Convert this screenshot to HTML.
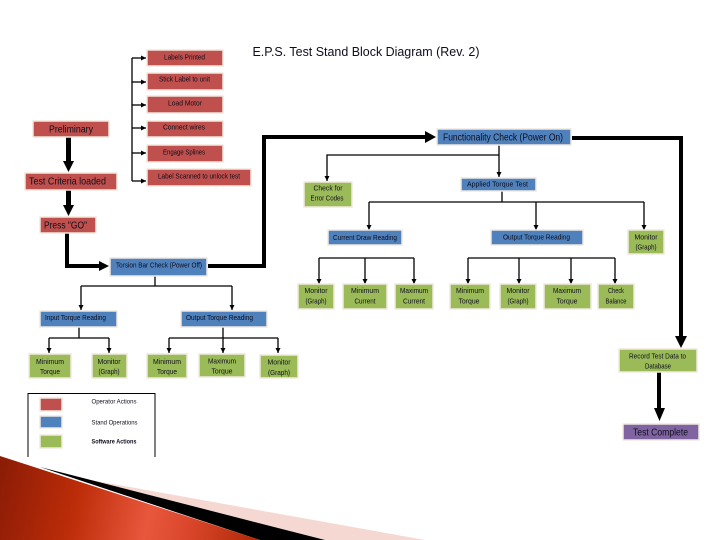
<!DOCTYPE html>
<html><head><meta charset="utf-8"><style>
html,body{margin:0;padding:0;background:#fff;width:720px;height:540px;overflow:hidden}
svg{display:block}
text{font-family:"Liberation Sans",sans-serif;text-anchor:middle;fill:#10101c;filter:url(#b)}
.s{font-size:7.2px}.l{font-size:10px}
.r{fill:#c0504d}.u{fill:#4f81bd}.g{fill:#9bbb59}.p{fill:#8064a2}
rect.r,rect.u,rect.g,rect.p{stroke:#f1e9df;stroke-width:1.5}
.t{fill:none;stroke:#000;stroke-width:1.3}
.k{fill:none;stroke:#000;stroke-width:4}
</style></head><body>
<svg width="720" height="540" viewBox="0 0 720 540" xmlns="http://www.w3.org/2000/svg">
<defs>
<filter id="b" x="-10%" y="-30%" width="120%" height="160%"><feGaussianBlur stdDeviation="0.3"/></filter>
<linearGradient id="rg" gradientUnits="userSpaceOnUse" x1="0" y1="470" x2="260" y2="530">
<stop offset="0" stop-color="#8c1c06"/><stop offset="0.3" stop-color="#bc2c08"/><stop offset="0.58" stop-color="#e8573c"/><stop offset="0.75" stop-color="#d8452a"/><stop offset="1" stop-color="#b02806"/>
</linearGradient>
<marker id="a" markerUnits="userSpaceOnUse" markerWidth="6" markerHeight="6" refX="5" refY="3" orient="auto"><path d="M0 .5L5 3L0 5.5z"/></marker>
</defs>

<polygon points="85,479 425,540 250,540" fill="#f5d8d2"/>
<polygon points="40,467 325,540 260,540" fill="#000"/>
<polygon points="0,456 260,540 0,540" fill="url(#rg)"/>

<text x="366" y="56" style="font-size:13px" textLength="227" lengthAdjust="spacingAndGlyphs">E.P.S. Test Stand Block Diagram (Rev. 2)</text>

<!-- thin connectors -->
<g class="t">
<path d="M132 58V181"/>
<path d="M132 58H146" marker-end="url(#a)"/><path d="M132 82H146" marker-end="url(#a)"/><path d="M132 105H146" marker-end="url(#a)"/><path d="M132 128H146" marker-end="url(#a)"/><path d="M132 153H146" marker-end="url(#a)"/><path d="M132 181H146" marker-end="url(#a)"/>
<path d="M499 145V177" marker-end="url(#a)"/>
<path d="M499 155H327V181" marker-end="url(#a)"/>
<path d="M502 191V202M369 202H644"/>
<path d="M369 202V230" marker-end="url(#a)"/><path d="M536 202V230" marker-end="url(#a)"/><path d="M644 202V230" marker-end="url(#a)"/>
<path d="M319 258H414M468 258H615"/>
<path d="M319 258V284" marker-end="url(#a)"/><path d="M365 258V284" marker-end="url(#a)"/><path d="M414 258V284" marker-end="url(#a)"/><path d="M468 258V284" marker-end="url(#a)"/><path d="M519 258V284" marker-end="url(#a)"/><path d="M571 258V284" marker-end="url(#a)"/><path d="M615 258V284" marker-end="url(#a)"/>
<path d="M155 276V286M81 286H232"/>
<path d="M81 286V310" marker-end="url(#a)"/><path d="M232 286V310" marker-end="url(#a)"/>
<path d="M79 327V338M49 338H109M223 327V338M169 338H278"/>
<path d="M49 338V353" marker-end="url(#a)"/><path d="M109 338V353" marker-end="url(#a)"/><path d="M169 338V353" marker-end="url(#a)"/><path d="M223 338V353" marker-end="url(#a)"/><path d="M278 338V353" marker-end="url(#a)"/>
</g>

<!-- thick connectors -->
<path class="k" style="stroke-width:5" d="M68.500 137V163"/><polygon points="63,161 74,161 68.500,172"/>
<path class="k" style="stroke-width:5" d="M68.500 190V207"/><polygon points="63,205 74,205 68.500,216"/>
<path class="k" d="M67 233V266H100"/><polygon points="99,261 99,271 109,266"/>
<path class="k" d="M208 266H264V137H427"/><polygon points="425,131 425,143 436,137"/>
<path class="k" d="M572 138H681V338"/><polygon points="675,336 687,336 681,348"/>
<path class="k" d="M659 372V410"/><polygon points="654,408 665,408 659.500,421"/>

<!-- red -->
<rect class="r" x="147" y="50" width="76" height="16"/><text class="s" x="184.500" y="59.500" textLength="41" lengthAdjust="spacingAndGlyphs">Labels Printed</text>
<rect class="r" x="147" y="73" width="76" height="17"/><text class="s" x="184.500" y="81.500" textLength="51" lengthAdjust="spacingAndGlyphs">Stick Label to unit</text>
<rect class="r" x="147" y="96" width="76" height="17"/><text class="s" x="185" y="105.500" textLength="34" lengthAdjust="spacingAndGlyphs">Load Motor</text>
<rect class="r" x="147" y="121" width="76" height="16"/><text class="s" x="184" y="129.500" textLength="42" lengthAdjust="spacingAndGlyphs">Connect wires</text>
<rect class="r" x="147" y="145" width="76" height="17"/><text class="s" x="184" y="154.500" textLength="42" lengthAdjust="spacingAndGlyphs">Engage Splines</text>
<rect class="r" x="147" y="169" width="104" height="17"/><text class="s" x="199" y="178.500" textLength="82" lengthAdjust="spacingAndGlyphs">Label Scanned to unlock test</text>
<rect class="r" x="33" y="121" width="76" height="16"/><text class="l" x="71" y="132.500" textLength="44" lengthAdjust="spacingAndGlyphs">Preliminary</text>
<rect class="r" x="25" y="173" width="92" height="17"/><text class="l" x="67.500" y="184.500" textLength="77" lengthAdjust="spacingAndGlyphs">Test Criteria loaded</text>
<rect class="r" x="40" y="217" width="56" height="16"/><text class="l" x="65.500" y="228.500" textLength="43" lengthAdjust="spacingAndGlyphs">Press "GO"</text>

<!-- blue -->
<rect class="u" x="110" y="258" width="97" height="18"/><text class="s" x="159" y="267.500" textLength="86" lengthAdjust="spacingAndGlyphs">Torsion Bar Check (Power Off)</text>
<rect class="u" x="437" y="129" width="134" height="16"/><text class="l" x="503" y="140.500" textLength="120" lengthAdjust="spacingAndGlyphs">Functionality Check (Power On)</text>
<rect class="u" x="461" y="178" width="75" height="13"/><text class="s" x="497.500" y="186.500" textLength="61" lengthAdjust="spacingAndGlyphs">Applied Torque Test</text>
<rect class="u" x="328" y="230" width="74" height="15"/><text class="s" x="365" y="240" textLength="64" lengthAdjust="spacingAndGlyphs">Current Draw Reading</text>
<rect class="u" x="491" y="230" width="92" height="15"/><text class="s" x="536.500" y="239.500" textLength="67" lengthAdjust="spacingAndGlyphs">Output Torque Reading</text>
<rect class="u" x="40" y="311" width="77" height="16"/><text class="s" x="75.500" y="320" textLength="61" lengthAdjust="spacingAndGlyphs">Input Torque Reading</text>
<rect class="u" x="181" y="311" width="86" height="16"/><text class="s" x="219.500" y="320" textLength="67" lengthAdjust="spacingAndGlyphs">Output Torque Reading</text>

<!-- green -->
<rect class="g" x="304" y="182" width="48" height="25"/><text class="s" x="328" y="190.500" textLength="29" lengthAdjust="spacingAndGlyphs">Check for</text><text class="s" x="327" y="200.500" textLength="33" lengthAdjust="spacingAndGlyphs">Error Codes</text>
<rect class="g" x="628" y="230" width="36" height="24"/><text class="s" x="646" y="239.500" textLength="23" lengthAdjust="spacingAndGlyphs">Monitor</text><text class="s" x="646" y="249.500" textLength="21" lengthAdjust="spacingAndGlyphs">(Graph)</text>
<rect class="g" x="298" y="284" width="36" height="25"/><text class="s" x="316" y="293" textLength="23" lengthAdjust="spacingAndGlyphs">Monitor</text><text class="s" x="316" y="303.500" textLength="21" lengthAdjust="spacingAndGlyphs">(Graph)</text>
<rect class="g" x="343" y="284" width="44" height="25"/><text class="s" x="365" y="293" textLength="28" lengthAdjust="spacingAndGlyphs">Minimum</text><text class="s" x="365" y="303.500" textLength="21" lengthAdjust="spacingAndGlyphs">Current</text>
<rect class="g" x="395" y="284" width="38" height="25"/><text class="s" x="414" y="293" textLength="28" lengthAdjust="spacingAndGlyphs">Maximum</text><text class="s" x="414" y="303.500" textLength="22" lengthAdjust="spacingAndGlyphs">Current</text>
<rect class="g" x="450" y="284" width="40" height="25"/><text class="s" x="470" y="293" textLength="28" lengthAdjust="spacingAndGlyphs">Minimum</text><text class="s" x="469" y="303.500" textLength="21" lengthAdjust="spacingAndGlyphs">Torque</text>
<rect class="g" x="500" y="284" width="36" height="25"/><text class="s" x="518" y="293" textLength="23" lengthAdjust="spacingAndGlyphs">Monitor</text><text class="s" x="518" y="303.500" textLength="21" lengthAdjust="spacingAndGlyphs">(Graph)</text>
<rect class="g" x="544" y="284" width="47" height="25"/><text class="s" x="567" y="293" textLength="28" lengthAdjust="spacingAndGlyphs">Maximum</text><text class="s" x="567" y="303.500" textLength="21" lengthAdjust="spacingAndGlyphs">Torque</text>
<rect class="g" x="598" y="284" width="36" height="25"/><text class="s" x="616" y="293" textLength="16" lengthAdjust="spacingAndGlyphs">Check</text><text class="s" x="616" y="303.500" textLength="21" lengthAdjust="spacingAndGlyphs">Balance</text>
<rect class="g" x="29" y="354" width="42" height="24"/><text class="s" x="50" y="364" textLength="28" lengthAdjust="spacingAndGlyphs">Minimum</text><text class="s" x="50" y="374" textLength="20" lengthAdjust="spacingAndGlyphs">Torque</text>
<rect class="g" x="92" y="354" width="35" height="24"/><text class="s" x="109" y="364" textLength="23" lengthAdjust="spacingAndGlyphs">Monitor</text><text class="s" x="109" y="374" textLength="21" lengthAdjust="spacingAndGlyphs">(Graph)</text>
<rect class="g" x="147" y="354" width="40" height="24"/><text class="s" x="167" y="364" textLength="28" lengthAdjust="spacingAndGlyphs">Minimum</text><text class="s" x="167" y="374" textLength="20" lengthAdjust="spacingAndGlyphs">Torque</text>
<rect class="g" x="199" y="354" width="46" height="23"/><text class="s" x="222" y="363.500" textLength="28" lengthAdjust="spacingAndGlyphs">Maximum</text><text class="s" x="222" y="373.500" textLength="21" lengthAdjust="spacingAndGlyphs">Torque</text>
<rect class="g" x="260" y="355" width="38" height="23"/><text class="s" x="279" y="364.500" textLength="23" lengthAdjust="spacingAndGlyphs">Monitor</text><text class="s" x="279" y="375" textLength="22" lengthAdjust="spacingAndGlyphs">(Graph)</text>
<rect class="g" x="619" y="349" width="78" height="23"/><text class="s" x="657.500" y="358.500" textLength="57" lengthAdjust="spacingAndGlyphs">Record Test Data to</text><text class="s" x="658" y="368.500" textLength="26" lengthAdjust="spacingAndGlyphs">Database</text>

<!-- purple -->
<rect class="p" x="623" y="424" width="76" height="16"/><text class="l" x="660.500" y="435.500" textLength="55" lengthAdjust="spacingAndGlyphs">Test Complete</text>

<!-- legend -->
<path d="M28 457V393.500H155V457" fill="none" stroke="#000" stroke-width="1"/>
<rect class="r" x="40" y="398" width="22" height="13"/>
<rect class="u" x="40" y="416" width="22" height="12"/>
<rect class="g" x="40" y="435" width="22" height="13"/>
<text x="114" y="403.500" style="font-size:6.500px" textLength="45" lengthAdjust="spacingAndGlyphs">Operator Actions</text>
<text x="114.500" y="424.500" style="font-size:6.500px" textLength="46" lengthAdjust="spacingAndGlyphs">Stand Operations</text>
<text x="114" y="443.500" style="font-size:6.500px;font-weight:bold" textLength="45" lengthAdjust="spacingAndGlyphs">Software Actions</text>
</svg>
</body></html>
